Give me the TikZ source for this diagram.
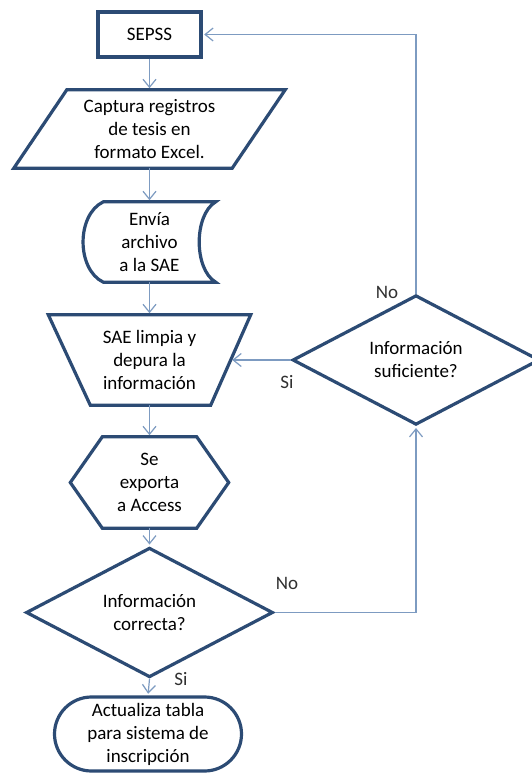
\documentclass[tikz,border=0pt]{standalone}
\usepackage{fontspec}
\setmainfont{Carlito}
\usetikzlibrary{shapes.geometric,arrows.meta,calc}
\definecolor{edge}{HTML}{2C4B74}
\definecolor{link}{HTML}{7D9BC1}
\definecolor{labelgray}{HTML}{303030}
\tikzset{
  outline/.style={draw=edge, line width=3.2pt, line join=miter},
  txt/.style={font=\fontsize{19}{23}\selectfont, align=center, text=black, inner sep=0pt},
  slot/.style 2 args={txt, minimum width=#1, minimum height=#2},
  conn/.style={draw=link, line width=1.2pt, shorten >=1.6pt,
    -{Straight Barb[length=8pt,width=13pt,line width=1.2pt]}},
  plainline/.style={draw=link, line width=1.2pt},
  branch/.style={font=\fontsize{19}{23}\selectfont, text=labelgray, inner sep=0pt},
}
\begin{document}
\begin{tikzpicture}[x=1pt,y=-1pt]
\fill[white] (0,0) rectangle (531,773);
\useasboundingbox (0,0) rectangle (531,773);

% process nodes along the main column
\node[outline, rectangle, slot={103pt}{45pt}] (sepss) at (149.5,34.5) {SEPSS};
\node[slot={271pt}{78pt}] (captura) at (149.5,129) {Captura registros\\de tesis en\\formato Excel.};
\node[slot={132pt}{80pt}] (envia) at (149.5,242) {Envía\\archivo\\a la SAE};
\node[slot={202pt}{90pt}] (limpia) at (149.5,360) {SAE limpia y\\depura la\\información};
\node[slot={158pt}{91pt}] (exporta) at (149.5,482.5) {Se\\exporta\\a Access};
\node[outline, diamond, slot={247pt}{99pt}] (correcta) at (149.5,612.5) {Información\\correcta?};
\node[outline, rectangle, rounded corners=37pt, slot={187pt}{74pt}] (actualiza) at (148,734) {Actualiza tabla\\para sistema de\\inscripción};

% decision on the right
\node[outline, diamond, slot={247pt}{100pt}] (suficiente) at (416,360) {Información\\suficiente?};

% data (parallelogram)
\draw[outline] ($(captura.north west)+(53,0)$) -- (captura.north east)
  -- ($(captura.south east)+(-53,0)$) -- (captura.south west) -- cycle;
% stored data
\draw[outline] ($(envia.north west)+(20,0)$) -- (envia.north east)
  .. controls ($(envia.north east)+(-22,13)$) and ($(envia.south east)+(-22,-13)$) .. (envia.south east)
  -- ($(envia.south west)+(20,0)$)
  .. controls ($(envia.south west)+(-7,-13)$) and ($(envia.north west)+(-7,13)$) .. ($(envia.north west)+(20,0)$) -- cycle;
% manual operation (trapezoid)
\draw[outline] (limpia.north west) -- (limpia.north east)
  -- ($(limpia.south east)+(-40,0)$) -- ($(limpia.south west)+(42,0)$) -- cycle;
% preparation (hexagon)
\draw[outline] ($(exporta.north west)+(32,0)$) -- ($(exporta.north east)+(-32,0)$)
  -- (exporta.east) -- ($(exporta.south east)+(-32,0)$)
  -- ($(exporta.south west)+(32,0)$) -- (exporta.west) -- cycle;

% connectors
\draw[conn] (sepss.south) -- (captura.north);
\draw[conn] (captura.south) -- (envia.north);
\draw[conn] (envia.south) -- (limpia.north);
\draw[conn] (limpia.south) -- (exporta.north);
\draw[conn] (exporta.south) -- (correcta.north);
\draw[conn] (correcta.south) -- (actualiza.north);
\draw[conn] (correcta.east) -| (suficiente.south);
\draw[conn] (suficiente.west) -- ($(limpia.east)+(-20,0)$);
\draw[conn] (suficiente.north) |- (sepss.east);

% branch labels
\node[branch] (no1) at (387,292) {No};
\node[branch] (si1) at (287,382) {Si};
\node[branch] (no2) at (287,583) {No};
\node[branch] (si2) at (181,679) {Si};
\end{tikzpicture}
\end{document}
